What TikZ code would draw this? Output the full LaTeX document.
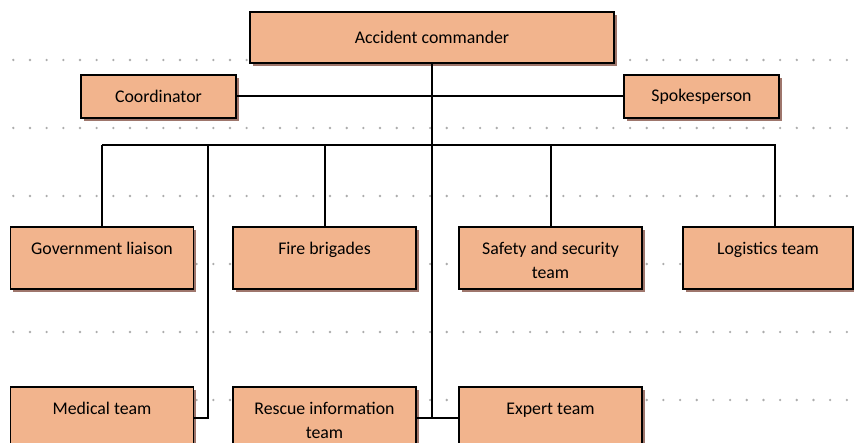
\documentclass[tikz,border=0pt]{standalone}
\usepackage{fontspec}
\setmainfont{Carlito}
\usetikzlibrary{shadows}
\definecolor{boxfill}{RGB}{242,180,141}
\definecolor{boxshade}{RGB}{158,118,108}
\definecolor{dotgray}{RGB}{172,172,172}

\begin{document}
\begin{tikzpicture}[x=1pt,y=-1pt,
  unit/.style={draw,line width=1.9pt,fill=boxfill,inner sep=0pt,align=center,
    font=\fontsize{17.8}{24}\selectfont,
    general shadow={fill=boxshade,shadow xshift=2.8pt,shadow yshift=-2.8pt}},
  team/.style={unit,minimum width=183pt,minimum height=62pt},
  link/.style={line width=2pt},
  trunk/.style={line width=2.6pt},
  dotrow/.style={dotgray,line width=2.6pt,line cap=round,dash pattern=on 0pt off 16.67pt}]

  \useasboundingbox (0,0) rectangle (854,443);
  \foreach \y in {60,128,196,264,332,400}
    \draw[dotrow] (13.3,\y) -- (854,\y);

  \node[unit,minimum width=364pt,minimum height=51pt] (cmd) at (432,37.5) {Accident commander};
  \node[unit,minimum width=155pt,minimum height=43pt] (coord) at (158.5,96.5) {Coordinator};
  \node[unit,minimum width=155pt,minimum height=43pt] (spokes) at (701.5,96.5) {Spokesperson};

  \node[team] (gov) at (102,258) {\strut Government liaison\\\mbox{}};
  \node[team] (fire) at (324.5,258) {\strut Fire brigades\\\mbox{}};
  \node[team] (safety) at (550.5,258) {\strut Safety and security\\team};
  \node[team,minimum width=170pt] (logi) at (768,258) {\strut Logistics team\\\mbox{}};

  \node[team] (medical) at (102,418) {\strut Medical team\\\mbox{}};
  \node[team] (rescue) at (324.5,418) {\strut Rescue information\\team};
  \node[team] (expert) at (550.5,418) {\strut Expert team\\\mbox{}};

  \coordinate (busR) at (775,145);
  \coordinate (medtap) at (208,145);

  \draw[link] (coord.east) -- (spokes.west);
  \draw[trunk] (cmd.south) -- (cmd.south |- rescue.east);
  \draw[link] (gov.north |- busR) -- (busR) -- (busR |- logi.north);
  \draw[link] (gov.north |- busR) -- (gov.north);
  \draw[link] (fire.north |- busR) -- (fire.north);
  \draw[link] (safety.north |- busR) -- (safety.north);
  \draw[link] (medical.east) -| (medtap);
  \draw[link] (rescue.east) -- (expert.west);
\end{tikzpicture}
\end{document}
